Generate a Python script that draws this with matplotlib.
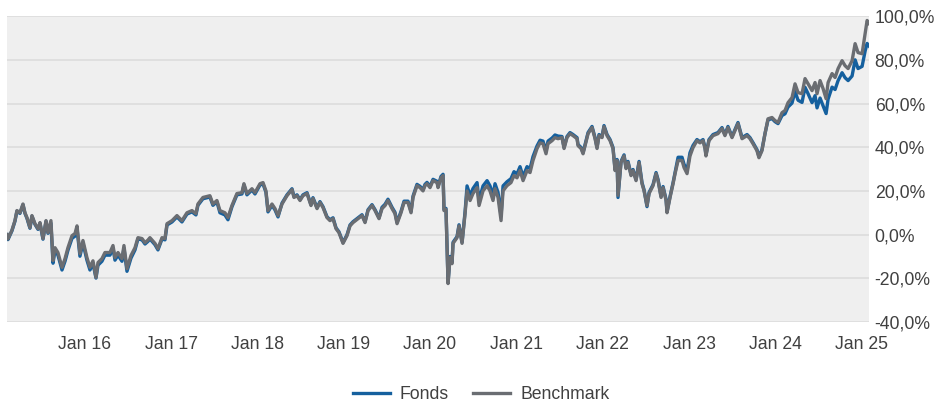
import matplotlib
matplotlib.use("Agg")
import matplotlib.pyplot as plt
from matplotlib.ticker import FixedLocator, FuncFormatter

plt.rcParams["font.family"] = ["Liberation Sans", "DejaVu Sans"]

# Observation times as decimal years
t = [
    2015.099, 2015.110, 2015.156, 2015.191, 2015.214, 2015.249, 2015.284, 2015.307, 2015.330, 2015.365,
    2015.388, 2015.423, 2015.458, 2015.481, 2015.516, 2015.551, 2015.574, 2015.608, 2015.632, 2015.655,
    2015.689, 2015.736, 2015.771, 2015.805, 2015.852, 2015.887, 2015.910, 2015.944, 2015.979, 2016.025,
    2016.060, 2016.095, 2016.130, 2016.153, 2016.199, 2016.234, 2016.292, 2016.327, 2016.350, 2016.385,
    2016.431, 2016.454, 2016.489, 2016.535, 2016.582, 2016.616, 2016.663, 2016.698, 2016.732, 2016.755,
    2016.813, 2016.848, 2016.895, 2016.929, 2016.953, 2017.011, 2017.068, 2017.126, 2017.184, 2017.242,
    2017.288, 2017.311, 2017.369, 2017.450, 2017.485, 2017.531, 2017.566, 2017.624, 2017.659, 2017.705,
    2017.763, 2017.821, 2017.844, 2017.879, 2017.937, 2017.972, 2018.030, 2018.065, 2018.099, 2018.123,
    2018.169, 2018.204, 2018.239, 2018.285, 2018.343, 2018.378, 2018.401, 2018.424, 2018.459, 2018.494,
    2018.528, 2018.575, 2018.621, 2018.644, 2018.691, 2018.725, 2018.760, 2018.806, 2018.841, 2018.876,
    2018.911, 2018.945, 2018.992, 2019.038, 2019.073, 2019.108, 2019.166, 2019.212, 2019.247, 2019.282,
    2019.328, 2019.363, 2019.409, 2019.444, 2019.479, 2019.513, 2019.560, 2019.594, 2019.618, 2019.664,
    2019.699, 2019.745, 2019.780, 2019.803, 2019.849, 2019.884, 2019.919, 2019.942, 2019.965, 2020.000,
    2020.035, 2020.081, 2020.093, 2020.127, 2020.151, 2020.162, 2020.185, 2020.209, 2020.232, 2020.255,
    2020.267, 2020.313, 2020.336, 2020.371, 2020.406, 2020.429, 2020.464, 2020.498, 2020.545, 2020.568,
    2020.614, 2020.661, 2020.695, 2020.730, 2020.753, 2020.788, 2020.823, 2020.846, 2020.892, 2020.938,
    2020.973, 2021.008, 2021.043, 2021.078, 2021.124, 2021.159, 2021.193, 2021.240, 2021.275, 2021.309,
    2021.344, 2021.367, 2021.414, 2021.448, 2021.483, 2021.529, 2021.553, 2021.587, 2021.622, 2021.657,
    2021.703, 2021.715, 2021.750, 2021.773, 2021.796, 2021.831, 2021.877, 2021.912, 2021.935, 2021.958,
    2021.993, 2022.016, 2022.051, 2022.086, 2022.120, 2022.144, 2022.167, 2022.178, 2022.213, 2022.248,
    2022.271, 2022.294, 2022.329, 2022.352, 2022.387, 2022.422, 2022.456, 2022.480, 2022.514, 2022.538,
    2022.584, 2022.619, 2022.642, 2022.677, 2022.700, 2022.735, 2022.746, 2022.781, 2022.816, 2022.839,
    2022.874, 2022.920, 2022.943, 2022.978, 2023.012, 2023.047, 2023.093, 2023.128, 2023.163, 2023.186,
    2023.197, 2023.232, 2023.279, 2023.336, 2023.383, 2023.417, 2023.452, 2023.499, 2023.533, 2023.568,
    2023.615, 2023.673, 2023.707, 2023.742, 2023.788, 2023.811, 2023.846, 2023.881, 2023.916, 2023.962,
    2023.997, 2024.032, 2024.078, 2024.113, 2024.148, 2024.194, 2024.229, 2024.264, 2024.310, 2024.345,
    2024.380, 2024.426, 2024.461, 2024.484, 2024.519, 2024.554, 2024.589, 2024.612, 2024.658, 2024.693,
    2024.728, 2024.774, 2024.809, 2024.844, 2024.890, 2024.925, 2024.959, 2025.006, 2025.041, 2025.064,
    2025.087,
]

# Cumulative performance of the benchmark, in percent
benchmark = [
    0.0, -2.0, 2.0, 6.4, 11.0, 10.0, 14.0, 10.0, 7.8, 3.2,
    8.7, 5.0, 2.7, 5.5, -1.8, 6.4, 0.9, 6.4, -11.9, -6.0,
    -8.2, -15.0, -11.0, -6.0, -0.5, 0.5, 4.0, -8.7, -2.7, -10.5,
    -15.0, -12.0, -19.6, -12.8, -11.0, -8.2, -8.2, -5.0, -10.5, -8.2,
    -11.0, -5.0, -15.6, -9.6, -6.0, -1.4, -1.8, -3.7, -2.5, -1.4,
    -4.0, -6.4, -1.4, -1.8, 5.0, 6.4, 8.7, 6.4, 10.0, 11.0,
    9.6, 14.0, 17.0, 17.8, 14.0, 15.6, 11.0, 10.0, 7.8, 13.3,
    18.8, 19.2, 23.3, 18.8, 21.0, 19.2, 23.3, 23.8, 20.0, 11.0,
    14.0, 11.9, 8.7, 14.0, 17.8, 19.5, 20.6, 17.0, 17.8, 15.6,
    17.8, 18.8, 13.3, 16.5, 11.9, 14.7, 12.4, 7.8, 6.4, 7.3,
    2.7, 0.9, -4.0, -0.5, 4.0, 5.5, 7.3, 8.7, 5.5, 11.0,
    13.3, 11.0, 7.3, 11.9, 13.3, 15.6, 11.9, 9.6, 5.0, 10.0,
    14.7, 14.7, 10.0, 17.0, 22.4, 21.5, 20.0, 22.4, 23.3, 21.5,
    24.7, 23.8, 21.5, 26.0, 27.0, 11.0, 11.5, -22.4, -10.5, -13.3,
    -4.0, -1.4, 4.0, -4.0, 9.6, 20.0, 15.6, 18.8, 21.5, 13.3,
    20.0, 22.4, 20.0, 15.6, 21.0, 17.0, 6.4, 20.0, 22.4, 23.8,
    27.0, 26.0, 29.3, 24.7, 29.3, 28.4, 33.9, 39.4, 42.0, 41.6,
    37.0, 41.6, 43.0, 44.4, 43.9, 44.4, 39.4, 44.4, 46.2, 45.3,
    43.9, 40.7, 39.4, 37.0, 40.7, 46.2, 49.0, 43.9, 39.4, 45.3,
    44.4, 49.4, 45.3, 43.0, 39.4, 29.3, 33.9, 18.0, 33.0, 36.0,
    30.2, 33.0, 27.0, 29.3, 24.7, 33.0, 23.3, 20.0, 13.3, 18.8,
    22.4, 27.9, 24.7, 17.0, 21.5, 15.6, 10.0, 17.0, 23.3, 27.9,
    33.9, 33.9, 30.7, 27.9, 36.0, 39.8, 43.0, 42.0, 43.0, 39.4,
    36.0, 43.0, 45.3, 46.2, 48.5, 45.3, 49.0, 44.4, 47.6, 50.8,
    43.9, 45.3, 43.9, 41.6, 38.4, 35.2, 38.4, 46.2, 53.0, 53.6,
    52.2, 51.3, 55.8, 56.8, 60.4, 62.7, 69.0, 65.0, 64.5, 71.4,
    69.0, 65.9, 69.6, 64.5, 70.5, 66.8, 62.2, 69.6, 73.7, 71.9,
    76.0, 79.6, 77.3, 76.0, 79.6, 87.4, 83.3, 82.8, 92.0, 98.0,
    96.6,
]

# Cumulative performance of the fund, in percent
fonds = [
    0.0, -2.3, 1.7, 6.1, 10.7, 9.7, 13.7, 9.7, 7.5, 2.9,
    8.4, 4.7, 2.4, 5.2, -2.1, 6.1, 0.6, 5.2, -13.1, -7.2,
    -9.4, -16.2, -12.2, -7.2, -1.7, -0.7, 2.8, -9.9, -3.9, -11.7,
    -16.2, -13.2, -19.9, -14.0, -12.2, -9.4, -9.4, -6.2, -11.7, -9.4,
    -12.2, -6.2, -16.8, -10.8, -7.0, -2.0, -2.4, -4.3, -3.1, -2.0,
    -4.6, -7.0, -2.0, -2.4, 4.4, 5.8, 8.1, 5.8, 9.4, 10.4,
    9.0, 13.4, 16.4, 17.2, 13.4, 15.0, 10.0, 9.0, 6.8, 12.7,
    18.2, 18.6, 22.7, 18.2, 20.4, 18.6, 22.7, 23.2, 19.4, 10.4,
    13.4, 11.3, 8.1, 14.4, 18.2, 19.9, 21.0, 17.4, 18.2, 16.0,
    18.2, 19.2, 13.7, 16.9, 12.3, 15.1, 12.8, 8.2, 6.8, 7.7,
    3.1, 1.3, -3.6, -0.1, 4.4, 5.9, 7.7, 9.1, 5.9, 11.4,
    13.7, 11.4, 7.7, 12.5, 13.9, 16.2, 12.5, 10.2, 5.6, 10.6,
    15.3, 15.3, 10.6, 17.6, 23.0, 22.1, 20.6, 23.0, 23.9, 22.1,
    25.3, 24.4, 22.1, 26.6, 27.6, 11.5, 12.0, -22.0, -10.0, -12.8,
    -3.5, -0.9, 4.5, -3.5, 10.4, 22.3, 17.9, 21.1, 23.8, 15.6,
    22.3, 24.7, 22.3, 17.9, 23.3, 19.3, 8.7, 22.3, 24.2, 25.6,
    28.8, 27.8, 31.1, 26.5, 31.1, 30.2, 35.7, 40.6, 43.2, 42.8,
    38.2, 42.8, 44.2, 45.6, 45.1, 44.9, 39.9, 44.9, 46.7, 45.8,
    44.4, 41.2, 39.9, 37.5, 41.2, 46.7, 49.5, 44.4, 39.9, 45.8,
    44.9, 49.9, 45.8, 43.5, 39.9, 29.8, 34.4, 17.0, 33.5, 36.5,
    30.7, 33.5, 27.5, 29.8, 25.2, 33.5, 23.8, 20.5, 12.8, 19.3,
    22.9, 28.4, 25.2, 17.5, 22.0, 16.1, 10.5, 17.5, 23.8, 28.4,
    35.4, 35.4, 32.2, 29.4, 37.5, 40.8, 43.5, 42.5, 43.5, 39.9,
    36.5, 43.5, 45.8, 46.7, 49.0, 45.8, 49.5, 44.9, 48.1, 51.3,
    44.4, 45.8, 44.4, 42.1, 38.9, 35.7, 38.9, 46.2, 52.5, 53.1,
    51.7, 50.8, 54.5, 55.3, 58.4, 60.2, 65.5, 61.5, 60.5, 67.4,
    64.5, 60.4, 63.6, 58.0, 62.5, 59.0, 55.4, 62.0, 67.5, 66.4,
    70.5, 74.1, 71.8, 70.5, 72.6, 80.0, 76.0, 77.0, 84.0, 87.5,
    86.3,
]

year_ticks = [2016, 2017, 2018, 2019, 2020, 2021, 2022, 2023, 2024, 2025]
year_labels = ["Jan 16", "Jan 17", "Jan 18", "Jan 19", "Jan 20",
               "Jan 21", "Jan 22", "Jan 23", "Jan 24", "Jan 25"]
pct_ticks = [-40, -20, 0, 20, 40, 60, 80, 100]

FONDS_COLOR = "#15609e"
BENCH_COLOR = "#6a6d72"
TEXT_COLOR = "#404040"

fig = plt.figure(figsize=(9.34, 4.03), dpi=100)
ax = fig.add_axes([0.0075, 0.201, 0.923, 0.759])
ax.set_facecolor("#efefef")

ax.plot(t, fonds, color=FONDS_COLOR, lw=2.4, label="Fonds", zorder=3,
        solid_joinstyle="round")
ax.plot(t, benchmark, color=BENCH_COLOR, lw=2.4, label="Benchmark", zorder=4,
        solid_joinstyle="round")

ax.set_xlim(t[0], t[-1])
ax.set_ylim(-40, 100)

ax.xaxis.set_major_locator(FixedLocator(year_ticks))
ax.set_xticklabels(year_labels)
ax.yaxis.set_major_locator(FixedLocator(pct_ticks))
ax.yaxis.set_major_formatter(FuncFormatter(lambda v, _: f"{v:.1f}%".replace(".", ",")))
ax.yaxis.tick_right()

ax.tick_params(axis="both", length=0, labelsize=12.7, colors=TEXT_COLOR)
ax.tick_params(axis="x", pad=10)
ax.tick_params(axis="y", pad=4)

ax.grid(axis="y", color="#dcdcdc", lw=1.2)
ax.grid(axis="x", visible=False)
ax.set_axisbelow(True)
for side in ax.spines.values():
    side.set_visible(False)

leg = fig.legend(loc="center", bbox_to_anchor=(0.515, 0.02), ncol=2, frameon=False,
                 fontsize=12.7, handlelength=2.1, columnspacing=1.4,
                 handletextpad=0.55, borderaxespad=0)
for txt in leg.get_texts():
    txt.set_color(TEXT_COLOR)
for line in leg.get_lines():
    line.set_linewidth(2.4)

fig.savefig("out.png", dpi=100)
